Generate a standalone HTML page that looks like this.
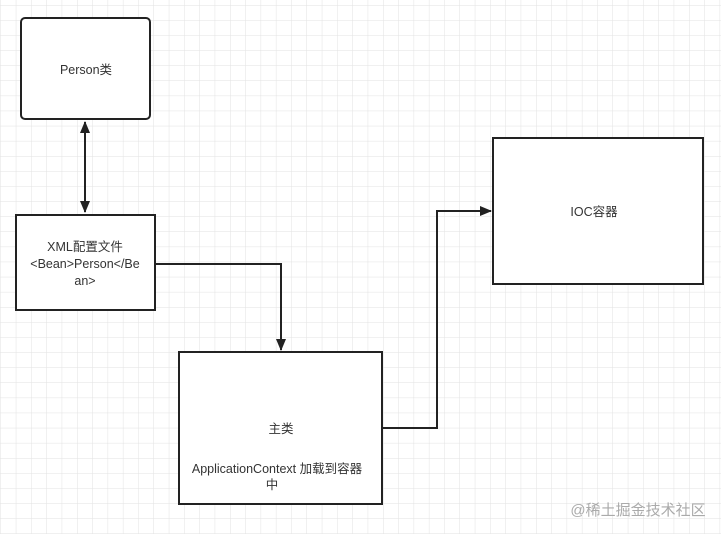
<!DOCTYPE html>
<html><head><meta charset="utf-8"><style>
html,body{margin:0;padding:0;background:#fff;}
svg{display:block;}
text{font-family:"Liberation Sans","Noto Sans CJK SC",sans-serif;font-size:12.5px;fill:#333;}
</style></head><body>
<svg width="721" height="534" viewBox="0 0 721 534" xmlns="http://www.w3.org/2000/svg">
<defs>
<pattern id="g" x="0.5" y="5" width="15.3" height="15.1" patternUnits="userSpaceOnUse">
<path d="M0 0V15.1M0 0H15.3" stroke="#e2e2e2" stroke-width="1" fill="none"/>
</pattern>
<marker id="a" markerWidth="12" markerHeight="12" refX="11" refY="6" orient="auto" markerUnits="userSpaceOnUse">
<path d="M0,1 L12,6 L0,11 Z" fill="#222"/>
</marker>
<marker id="s" markerWidth="12" markerHeight="12" refX="1" refY="6" orient="auto" markerUnits="userSpaceOnUse">
<path d="M12,1 L0,6 L12,11 Z" fill="#222"/>
</marker>
</defs>
<rect width="721" height="534" fill="url(#g)"/>
<g fill="#fff" stroke="#222" stroke-width="2">
<rect x="21" y="18" width="129" height="101" rx="4"/>
<rect x="16" y="215" width="139" height="95"/>
<rect x="179" y="352" width="203" height="152"/>
<rect x="493" y="138" width="210" height="146"/>
</g>
<g fill="none" stroke="#222" stroke-width="2">
<path d="M85 122V212" marker-start="url(#s)" marker-end="url(#a)"/>
<path d="M155 264H281V350" marker-end="url(#a)"/>
<path d="M382 428H437V211H491" marker-end="url(#a)"/>
</g>
<text x="86" y="74" text-anchor="middle">Person类</text>
<text x="85" y="251" text-anchor="middle">XML配置文件</text>
<text x="85" y="268" text-anchor="middle">&lt;Bean&gt;Person&lt;/Be</text>
<text x="85" y="285" text-anchor="middle">an&gt;</text>
<text x="281" y="433" text-anchor="middle">主类</text>
<text x="277" y="473" text-anchor="middle">ApplicationContext 加载到容器</text>
<text x="272" y="489" text-anchor="middle">中</text>
<text x="594" y="216" text-anchor="middle">IOC容器</text>
<text x="638" y="515" text-anchor="middle" style="font-size:15px;fill:#aaa">@稀土掘金技术社区</text>
</svg>
</body></html>
